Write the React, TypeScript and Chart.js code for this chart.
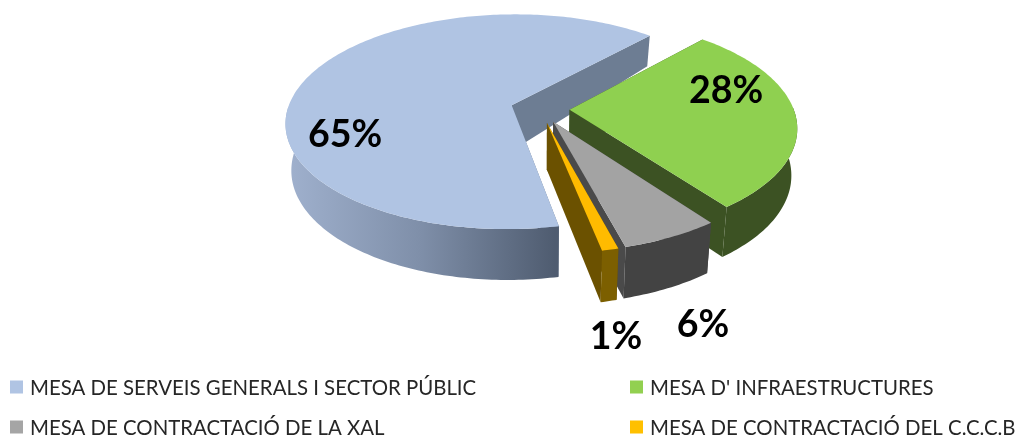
import React, { useEffect, useRef } from "react";
import { Chart, registerables } from "chart.js";

Chart.register(...registerables);

const categories = [
  "MESA DE SERVEIS GENERALS I SECTOR PÚBLIC",
  "MESA D' INFRAESTRUCTURES",
  "MESA DE CONTRACTACIÓ DE LA XAL",
  "MESA DE CONTRACTACIÓ DEL C.C.C.B",
];
const values = [65, 28, 6, 1];
const topColors = ["#b0c4e3", "#8fd050", "#a3a3a3", "#ffbb00"];
const legendColors = ["#b0c4e3", "#92d050", "#a5a5a5", "#ffc000"];
const cutColors = ["#6d7d93", "#3c5223", "#4a4a4a", "#6b5100"];
const outerColors = ["", "#3c5223", "#434343", "#7c5f00"];

const RX = 224;
const RY = 106;
const PERSPECTIVE = 0.154;
const SHRINK = 0.977;
const STEP = Math.PI / 180;

const pie3d = {
  id: "pie3d",
  beforeDatasetsDraw(chart: any) {
    const ctx = chart.ctx;
    const arcs = chart.getDatasetMeta(0).data;
    const top = (ux: number, uy: number, cx: number, cy: number) => {
      const w = 1 - PERSPECTIVE * uy;
      return [cx + (RX * ux) / w, cy + (RY * uy) / w];
    };
    const bottom = (ux: number, uy: number, cx: number, cy: number) => {
      const [x, y] = top(ux, uy, cx, cy);
      const d = 46 + (uy < 0 ? 20 * uy : 5 * uy);
      return [cx + (x - cx) * SHRINK, y + d];
    };
    const fill = (pts: number[][], color: any) => {
      ctx.beginPath();
      pts.forEach((p, i) => (i ? ctx.lineTo(p[0], p[1]) : ctx.moveTo(p[0], p[1])));
      ctx.closePath();
      ctx.fillStyle = color;
      ctx.fill();
    };
    arcs.forEach((el: any, i: number) => {
      const { startAngle, endAngle, outerRadius, x: cx, y: cy } = el;
      const mid = (startAngle + endAngle) / 2;
      const e = el.options.offset / outerRadius;
      const ox = e * Math.cos(mid);
      const oy = e * Math.sin(mid);
      const angles: number[] = [];
      for (let a = startAngle; a < endAngle; a += STEP) angles.push(a);
      angles.push(endAngle);
      const unit = angles.map((a) => [Math.cos(a) + ox, Math.sin(a) + oy]);
      const topArc = unit.map((u) => top(u[0], u[1], cx, cy));
      const apexT = top(ox, oy, cx, cy);
      const apexB = bottom(ox, oy, cx, cy);
      const n = unit.length - 1;
      fill([apexT, topArc[0], bottom(unit[0][0], unit[0][1], cx, cy), apexB], cutColors[i]);
      fill([apexT, topArc[n], bottom(unit[n][0], unit[n][1], cx, cy), apexB], cutColors[i]);
      let outer: any = outerColors[i];
      if (!outer) {
        outer = ctx.createLinearGradient(285, 0, 555, 0);
        outer.addColorStop(0, "#a0b1ce");
        outer.addColorStop(0.5, "#7f8fa9");
        outer.addColorStop(1, "#4f5c70");
      }
      // only the front of the rim is visible
      const front = unit.filter((u) => u[1] >= -0.03);
      if (front.length > 1) {
        const rimTop = front.map((u) => top(u[0], u[1], cx, cy));
        const rimBottom = front.map((u) => bottom(u[0], u[1], cx, cy)).reverse();
        fill([...rimTop, ...rimBottom], outer);
      }
      fill([apexT, ...topArc], el.options.backgroundColor);
    });

    // value labels
    const labelPos = [
      [345, 135],
      [726, 91],
      [703, 325],
      [616, 337],
    ];
    ctx.fillStyle = "#000000";
    ctx.font = "bold 37.5px Lato";
    ctx.textAlign = "center";
    ctx.textBaseline = "middle";
    values.forEach((v, i) => ctx.fillText(`${v}%`, labelPos[i][0], labelPos[i][1]));

    // legend
    const legendPos = [
      [10, 387],
      [630, 387],
      [10, 427],
      [630, 427],
    ];
    ctx.font = "20.4px Lato";
    ctx.textAlign = "left";
    categories.forEach((label, i) => {
      const [x, y] = legendPos[i];
      ctx.fillStyle = legendColors[i];
      ctx.fillRect(x, y - 6.5, 13, 13);
      ctx.fillStyle = "#262626";
      ctx.fillText(label, x + 20, y + 1);
    });
    return false;
  },
};

export default function App() {
  const ref = useRef<HTMLCanvasElement | null>(null);
  useEffect(() => {
    const chart = new Chart(ref.current as any, {
      type: "pie",
      data: {
        labels: categories,
        datasets: [
          {
            data: values,
            backgroundColor: topColors,
            borderWidth: 0,
            offset: 13.5,
          },
        ],
      },
      options: {
        responsive: false,
        animation: false,
        rotation: 168.5,
        layout: { padding: { left: 63, right: 0, top: 0, bottom: 220 } },
        plugins: { legend: { display: false }, tooltip: { enabled: false } },
      },
      plugins: [pie3d],
    } as any);
    return () => chart.destroy();
  }, []);
  return (
    <div style={{ position: "absolute", left: 0, top: 0, background: "#fff" }}>
      <canvas ref={ref} width={1017} height={438} style={{ display: "block" }} />
    </div>
  );
}
